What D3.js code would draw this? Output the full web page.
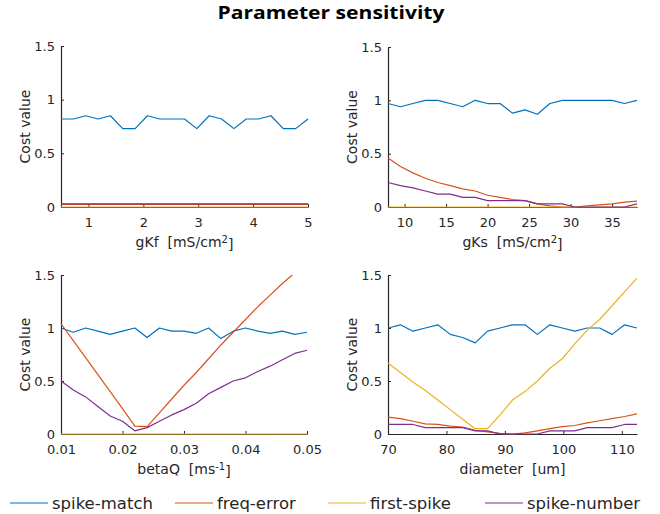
<!DOCTYPE html>
<html>
<head>
<meta charset="utf-8">
<script src="https://cdn.jsdelivr.net/npm/d3@7"></script>
<style>
    body { margin: 0; background: #fff; }
    svg { display: block; }
</style>
</head>
<body>
<div id="chart"></div>
<script>
// ---- data ----
const seriesNames = ["spike-match", "freq-error", "first-spike", "spike-number"];
const seriesColors = ["#0072BD", "#D95319", "#EDB120", "#7E2F8E"];

const yTicks = [0, 0.5, 1, 1.5];

// gKf
const gKfX = [0.5, 0.725, 0.95, 1.175, 1.4, 1.625, 1.85, 2.075, 2.3, 2.525, 2.75, 2.975, 3.2, 3.425, 3.65, 3.875, 4.1, 4.325, 4.55, 4.775, 5.0];
const gKfMatch = [0.82, 0.82, 0.85, 0.82, 0.85, 0.73, 0.73, 0.85, 0.82, 0.82, 0.82, 0.73, 0.85, 0.82, 0.73, 0.82, 0.82, 0.85, 0.73, 0.73, 0.82];
const gKfFreq = [0.025, 0.025, 0.025, 0.025, 0.025, 0.025, 0.025, 0.025, 0.025, 0.025, 0.025, 0.025, 0.025, 0.025, 0.025, 0.025, 0.025, 0.025, 0.025, 0.025, 0.025];
const gKfFirst = [0, 0, 0, 0, 0, 0, 0, 0, 0, 0, 0, 0, 0, 0, 0, 0, 0, 0, 0, 0, 0];
const gKfNumber = [0.03, 0.03, 0.03, 0.03, 0.03, 0.03, 0.03, 0.03, 0.03, 0.03, 0.03, 0.03, 0.03, 0.03, 0.03, 0.03, 0.03, 0.03, 0.03, 0.03, 0.03];
const gKfTicks = [1, 2, 3, 4, 5];

// gKs
const gKsX = [8, 9.5, 11, 12.5, 14, 15.5, 17, 18.5, 20, 21.5, 23, 24.5, 26, 27.5, 29, 30.5, 32, 33.5, 35, 36.5, 38];
const gKsMatch = [0.97, 0.94, 0.97, 1.0, 1.0, 0.97, 0.94, 1.0, 0.97, 0.97, 0.88, 0.91, 0.87, 0.97, 1.0, 1.0, 1.0, 1.0, 1.0, 0.97, 1.0];
const gKsFreq = [0.46, 0.38, 0.32, 0.27, 0.23, 0.20, 0.17, 0.15, 0.11, 0.09, 0.07, 0.06, 0.03, 0.01, 0, 0, 0.01, 0.02, 0.03, 0.045, 0.055];
const gKsFirst = [0, 0, 0, 0, 0, 0, 0, 0, 0, 0, 0, 0, 0, 0, 0, 0, 0, 0, 0, 0, 0];
const gKsNumber = [0.23, 0.20, 0.18, 0.15, 0.12, 0.12, 0.09, 0.09, 0.06, 0.06, 0.06, 0.06, 0.03, 0.03, 0.03, 0, 0, 0, 0, 0, 0.03];
const gKsTicks = [10, 15, 20, 25, 30, 35];

// betaQ
const betaQX = [0.010, 0.012, 0.014, 0.016, 0.018, 0.020, 0.022, 0.024, 0.026, 0.028, 0.030, 0.032, 0.034, 0.036, 0.038, 0.040, 0.042, 0.044, 0.046, 0.048, 0.050];
const betaQMatch = [1.0, 0.96, 1.0, 0.97, 0.94, 0.97, 1.0, 0.91, 1.0, 0.97, 0.97, 0.95, 1.0, 0.90, 0.97, 1.0, 0.97, 0.95, 0.97, 0.94, 0.96];
const betaQFreq = [1.04, 0.88, 0.72, 0.56, 0.40, 0.24, 0.075, 0.07, 0.20, 0.33, 0.46, 0.58, 0.71, 0.84, 0.96, 1.08, 1.20, 1.31, 1.42, 1.52, 1.62];
const betaQFirst = [0, 0, 0, 0, 0, 0, 0, 0, 0, 0, 0, 0, 0, 0, 0, 0, 0, 0, 0, 0, 0];
const betaQNumber = [0.50, 0.415, 0.35, 0.26, 0.17, 0.12, 0.03, 0.06, 0.12, 0.18, 0.23, 0.29, 0.38, 0.44, 0.50, 0.53, 0.59, 0.64, 0.70, 0.76, 0.79];
const betaQTicks = [0.01, 0.02, 0.03, 0.04, 0.05];

// diameter
const diamX = [70, 72.13, 74.26, 76.39, 78.52, 80.65, 82.78, 84.91, 87.04, 89.17, 91.3, 93.43, 95.56, 97.69, 99.82, 101.95, 104.08, 106.21, 108.34, 110.47, 112.6];
const diamMatch = [1.0, 1.03, 0.97, 1.0, 1.03, 0.94, 0.91, 0.86, 0.97, 1.0, 1.03, 1.03, 0.94, 1.03, 1.0, 0.97, 1.0, 1.0, 0.94, 1.03, 1.0];
const diamFreq = [0.16, 0.145, 0.12, 0.095, 0.09, 0.075, 0.066, 0.035, 0.02, 0.005, 0, 0.01, 0.03, 0.05, 0.07, 0.08, 0.105, 0.125, 0.145, 0.165, 0.19];
const diamFirst = [0.67, 0.58, 0.49, 0.41, 0.32, 0.23, 0.14, 0.05, 0.05, 0.18, 0.32, 0.40, 0.50, 0.62, 0.71, 0.85, 0.98, 1.08, 1.21, 1.34, 1.47];
const diamNumber = [0.09, 0.09, 0.09, 0.06, 0.06, 0.06, 0.06, 0.03, 0.03, 0, 0, 0, 0, 0.03, 0.03, 0.03, 0.06, 0.06, 0.06, 0.09, 0.09];
const diamTicks = [70, 80, 90, 100, 110];

// ---- panels ----
const panels = [
    {x: gKfX, series: [gKfMatch, gKfFreq, gKfFirst, gKfNumber], ticks: gKfTicks, fmt: "~g",
        label: ["gKf  [mS/cm", "2", "]"]},
    {x: gKsX, series: [gKsMatch, gKsFreq, gKsFirst, gKsNumber], ticks: gKsTicks, fmt: "~g",
        label: ["gKs  [mS/cm", "2", "]"]},
    {x: betaQX, series: [betaQMatch, betaQFreq, betaQFirst, betaQNumber], ticks: betaQTicks, fmt: ".2f",
        label: ["betaQ  [ms", "-1", "]"]},
    {x: diamX, series: [diamMatch, diamFreq, diamFirst, diamNumber], ticks: diamTicks, fmt: "~g",
        label: ["diameter  [um]", "", ""]}
];

// plot boxes (layout)
const boxes = [
    {left: 61, top: 46, w: 247, h: 161},
    {left: 388, top: 47, w: 249, h: 160},
    {left: 61, top: 275, w: 246, h: 159},
    {left: 388, top: 275, w: 249, h: 159}
];

// legend entry start positions (layout)
const legendStarts = [10, 175, 328, 485];

const axisColor = "#262626";
const font = "'DejaVu Sans', sans-serif";

const svg = d3.select("#chart").append("svg")
    .attr("width", 660)
    .attr("height", 514);

svg.append("rect").attr("width", 660).attr("height", 514).attr("fill", "#fff");

//title
svg.append("text")
    .attr("x", 331)
    .attr("y", 19)
    .attr("text-anchor", "middle")
    .attr("font-family", "'Open Sans', sans-serif")
    .attr("font-weight", "bold")
    .attr("font-size", 18)
    .attr("fill", "#000")
    .attr("textLength", 227)
    .attr("lengthAdjust", "spacingAndGlyphs")
    .text("Parameter sensitivity");

panels.forEach((p, i) => {
    let b = boxes[i];
    let g = svg.append("g").attr("transform", `translate(${b.left},${b.top})`);

    let x = d3.scaleLinear().domain(d3.extent(p.x)).range([0, b.w]);
    let y = d3.scaleLinear().domain([0, 1.5]).range([b.h, 0]);

    //clip at the top limit, leave room for the stroke at y = 0
    g.append("clipPath").attr("id", "clip" + i)
        .append("rect").attr("x", -2).attr("y", 0).attr("width", b.w + 4).attr("height", b.h + 2);

    //axes go underneath the data
    let yAxis = g.append("g")
        .call(d3.axisLeft(y).tickValues(yTicks).tickFormat(d3.format("~g"))
            .tickSize(-3).tickSizeOuter(0).tickPadding(6));
    let xAxis = g.append("g")
        .attr("transform", `translate(0,${b.h})`)
        .call(d3.axisBottom(x).tickValues(p.ticks).tickFormat(d3.format(p.fmt))
            .tickSize(-3).tickSizeOuter(0).tickPadding(11));

    [yAxis, xAxis].forEach(a => {
        a.select(".domain").attr("stroke", axisColor).attr("stroke-width", 1.2);
        a.selectAll(".tick line").attr("stroke", axisColor);
        a.selectAll(".tick text")
            .attr("fill", axisColor)
            .attr("font-family", font)
            .attr("font-size", 13);
    });

    let line = d3.line()
        .x((d, k) => x(p.x[k]))
        .y(d => y(d));

    g.append("g").attr("clip-path", `url(#clip${i})`)
        .selectAll("path")
        .data(p.series)
        .enter().append("path")
        .attr("d", d => line(d))
        .attr("fill", "none")
        .attr("stroke", (d, k) => seriesColors[k])
        .attr("stroke-width", 1.2)
        .attr("stroke-linejoin", "round");

    //y label
    g.append("text")
        .attr("transform", `translate(-31,${b.h / 2}) rotate(-90)`)
        .attr("text-anchor", "middle")
        .attr("font-family", font)
        .attr("font-size", 14)
        .attr("fill", axisColor)
        .text("Cost value");

    //x label with superscript
    let xl = g.append("text")
        .attr("x", b.w / 2)
        .attr("y", b.h + 40)
        .attr("text-anchor", "middle")
        .attr("font-family", font)
        .attr("font-size", 14)
        .attr("fill", axisColor)
        .style("white-space", "pre");
    xl.append("tspan").text(p.label[0]);
    if (p.label[1] !== "") {
        xl.append("tspan").attr("dy", "-0.45em").attr("font-size", 10).text(p.label[1]);
        xl.append("tspan").attr("dy", "0.45em").text(p.label[2]);
    }
});

//legend
let legend = svg.append("g").attr("transform", "translate(0,503)");
seriesNames.forEach((name, k) => {
    let lx = legendStarts[k];
    legend.append("line")
        .attr("x1", lx).attr("x2", lx + 38)
        .attr("y1", 0).attr("y2", 0)
        .attr("stroke", seriesColors[k])
        .attr("stroke-width", 1.2);
    legend.append("text")
        .attr("x", lx + 42)
        .attr("y", 0)
        .attr("dy", "0.35em")
        .attr("font-family", font)
        .attr("font-size", 16.5)
        .attr("fill", axisColor)
        .text(name);
});
</script>
</body>
</html>
